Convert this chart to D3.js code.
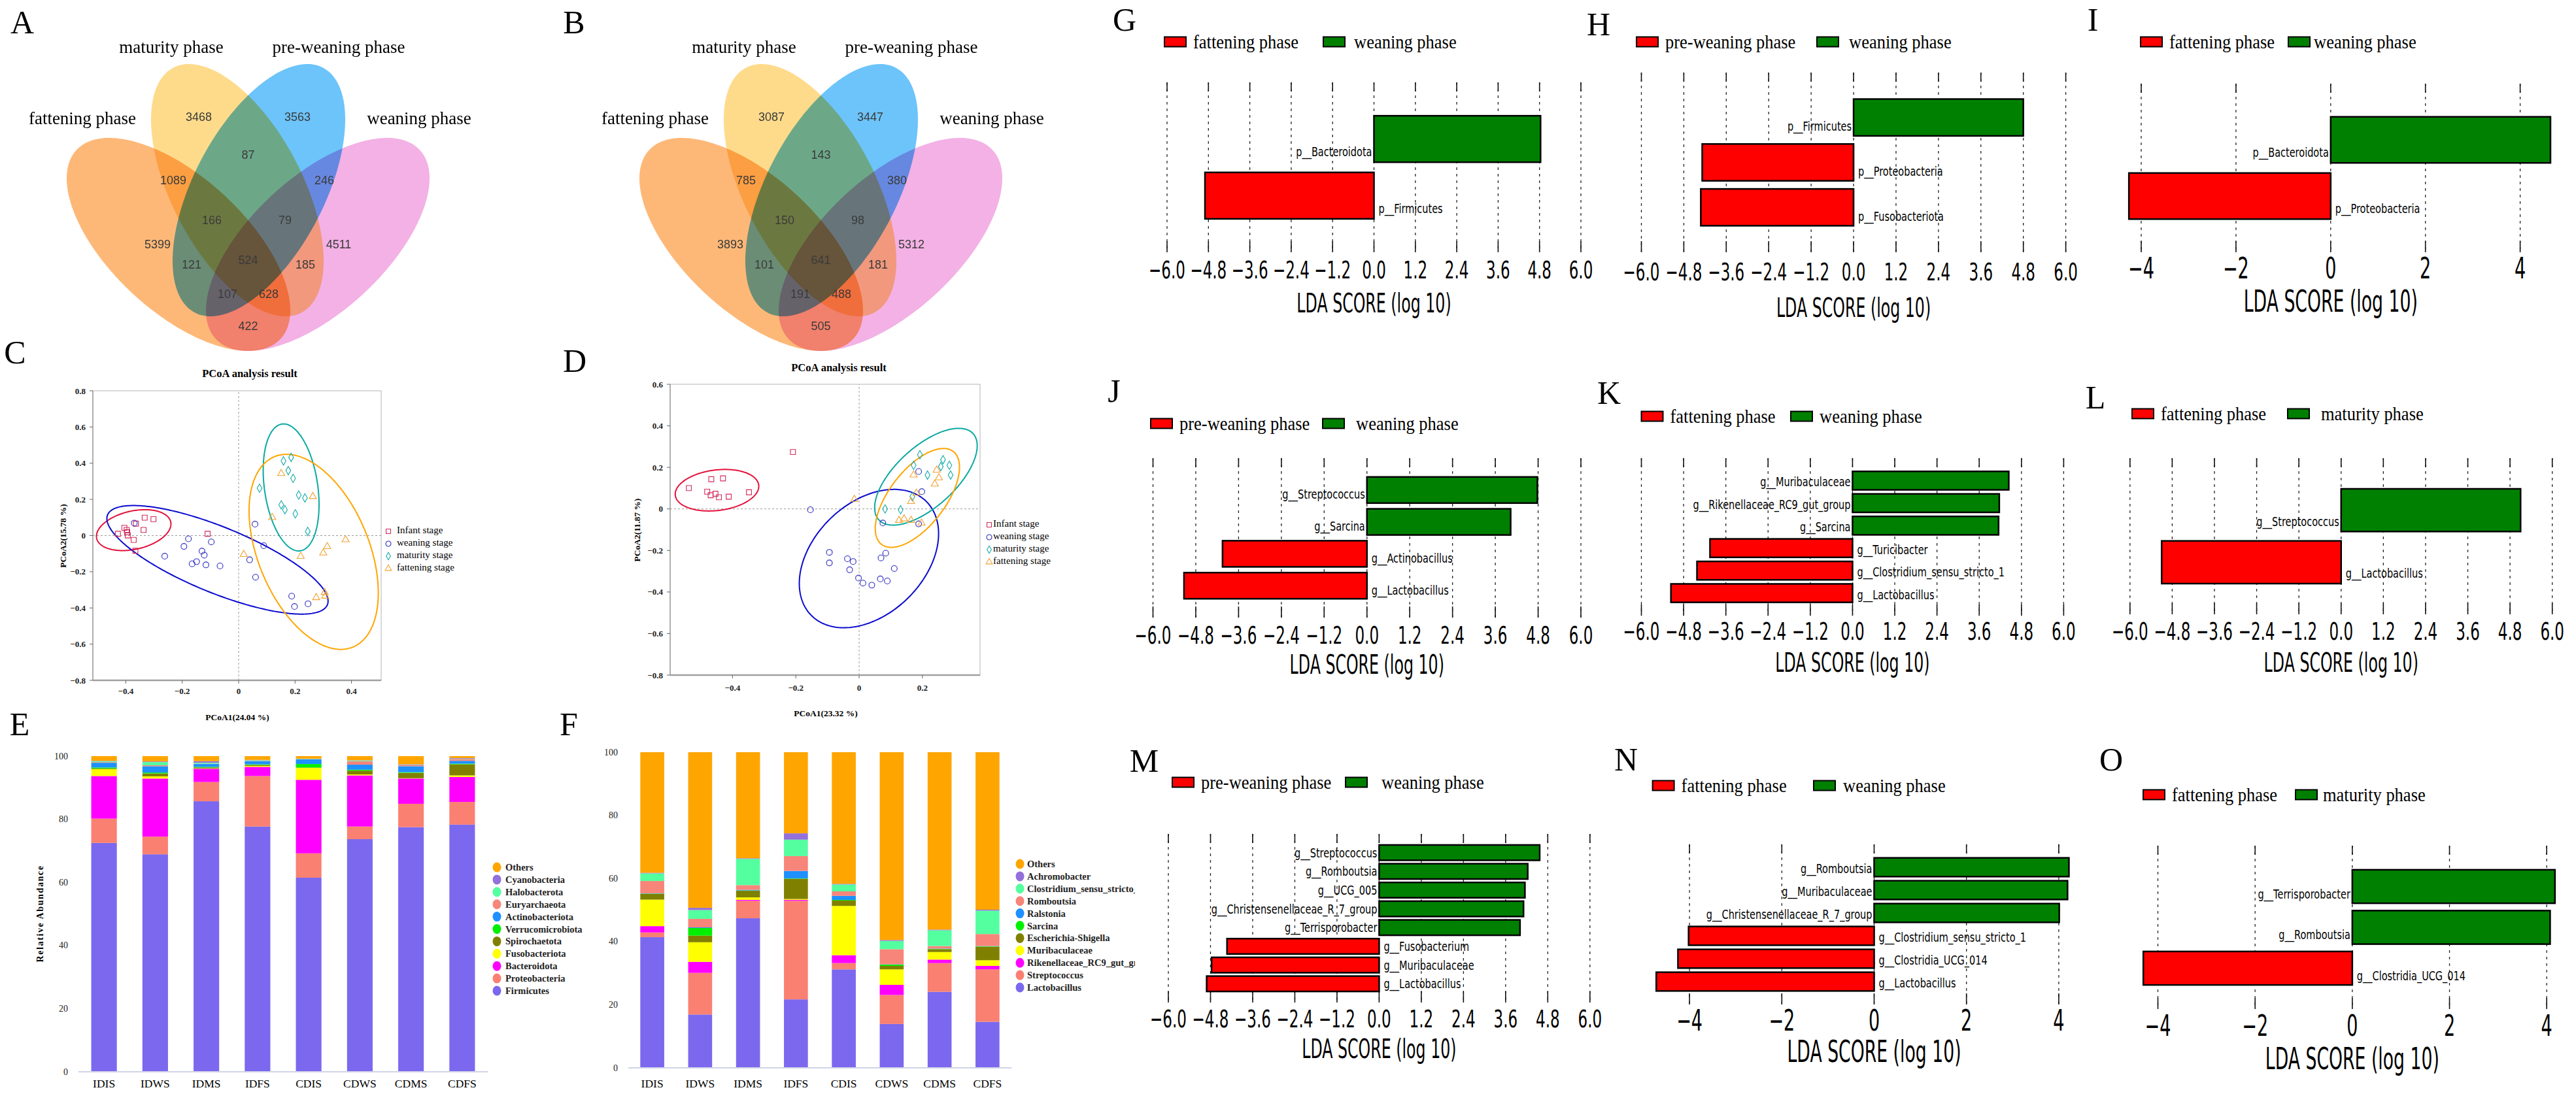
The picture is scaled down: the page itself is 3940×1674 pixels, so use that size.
<!DOCTYPE html>
<html>
<head>
<meta charset="utf-8">
<title>Gut microbiota across growth phases</title>
<script src="https://cdn.jsdelivr.net/npm/d3@7"></script>
<style>
  body { margin: 0; background: #fff; }
</style>
</head>
<body>
<div id="figure"></div>
<script>
// ---------------- data ----------------
const vennSets = ['fattening phase', 'maturity phase', 'pre-weaning phase', 'weaning phase'];
// region order: M, P, M&P, F&M, P&W, F&M&P, M&P&W, F, W, F&M&W, all, F&P&W, ..., F&W
const vennCountsA = [3468, 3563, 87, 1089, 246, 166, 79, 5399, 4511, 121, 524, 185, 107, 628, 422];
const vennCountsB = [3087, 3447, 143, 785, 380, 150, 98, 3893, 5312, 101, 641, 181, 191, 488, 505];

const stageNames = ['Infant stage', 'weaning stage', 'maturity stage', 'fattening stage'];

const cInfant = [[-0.428, 0.010], [-0.405, 0.043], [-0.397, 0.031], [-0.395, 0.018], [-0.393, 0.001], [-0.372, -0.024],
  [-0.364, 0.066], [-0.337, 0.031], [-0.333, 0.099], [-0.302, 0.091], [-0.366, -0.084], [-0.110, 0.010]];
const cWeaning = [[-0.370, 0.069], [-0.262, -0.114], [-0.194, -0.060], [-0.178, -0.018], [-0.097, -0.035], [-0.130, -0.086],
  [-0.122, -0.108], [-0.149, -0.144], [-0.165, -0.156], [-0.116, -0.162], [-0.066, -0.168], [0.039, -0.134],
  [0.060, -0.230], [0.058, 0.063], [0.089, -0.056], [0.188, -0.335], [0.246, -0.377], [0.198, -0.392]];
const cMaturity = [[0.159, 0.413], [0.186, 0.432], [0.176, 0.359], [0.193, 0.316], [0.074, 0.262], [0.235, 0.208],
  [0.213, 0.224], [0.151, 0.170], [0.164, 0.143], [0.201, 0.120], [0.245, 0.023]];
const cFattening = [[0.151, 0.343], [0.263, 0.216], [0.119, 0.100], [0.018, -0.104], [0.220, -0.115], [0.300, -0.096],
  [0.314, -0.061], [0.379, -0.023], [0.275, -0.343], [0.307, -0.335], [0.305, -0.315]];
// confidence ellipses: centre x, centre y, half width, half height, correlation
const cEllipses = [[-0.372, 0.030, 0.132, 0.113, 0.30], [-0.075, -0.134, 0.392, 0.300, -0.76],
  [0.186, 0.266, 0.099, 0.351, -0.27], [0.266, -0.090, 0.229, 0.539, -0.42]];

const dInfant = [[-0.538, 0.100], [-0.467, 0.143], [-0.430, 0.147], [-0.480, 0.083], [-0.469, 0.066], [-0.454, 0.073],
  [-0.443, 0.056], [-0.412, 0.059], [-0.348, 0.080], [-0.209, 0.274]];
const dWeaning = [[-0.154, -0.004], [-0.094, -0.209], [-0.094, -0.260], [-0.037, -0.240], [-0.019, -0.253], [-0.030, -0.293],
  [-0.002, -0.333], [0.012, -0.357], [0.040, -0.367], [0.069, -0.236], [0.084, -0.213], [0.067, -0.337],
  [0.089, -0.347], [0.111, -0.287], [0.075, -0.068], [0.188, -0.072], [0.188, 0.180], [0.198, 0.083]];
const dMaturity = [[0.192, 0.261], [0.172, 0.210], [0.258, 0.204], [0.265, 0.237], [0.285, 0.210], [0.289, 0.163],
  [0.216, 0.163], [0.082, 0.000], [0.131, -0.004], [0.168, 0.059]];
const dFattening = [[-0.015, 0.046], [0.172, 0.163], [0.181, 0.076], [0.245, 0.187], [0.252, 0.150], [0.239, 0.120],
  [0.164, 0.036], [0.142, -0.048], [0.164, -0.055], [0.126, -0.055], [0.197, -0.068]];
const dEllipses = [[-0.449, 0.090, 0.132, 0.100, 0.19], [0.031, -0.239, 0.220, 0.333, 0.36],
  [0.211, 0.155, 0.162, 0.233, 0.64], [0.184, 0.053, 0.133, 0.238, 0.62]];

const cXTicks = [-0.4, -0.2, 0, 0.2, 0.4];
const cYTicks = [-0.8, -0.6, -0.4, -0.2, 0, 0.2, 0.4, 0.6, 0.8];
const dXTicks = [-0.4, -0.2, 0, 0.2];
const dYTicks = [-0.8, -0.6, -0.4, -0.2, 0, 0.2, 0.4, 0.6];

const samples = ['IDIS', 'IDWS', 'IDMS', 'IDFS', 'CDIS', 'CDWS', 'CDMS', 'CDFS'];
const abundTicks = [0, 20, 40, 60, 80, 100];

// phylum level (%), stacked bottom to top
const firmicutes        = [72.5, 68.9, 85.7, 77.7, 61.5, 73.7, 77.5, 78.3];
const proteobacteria    = [7.7, 5.6, 6.1, 16.0, 7.7, 4.0, 7.4, 7.2];
const bacteroidota      = [13.5, 18.4, 4.2, 2.9, 23.3, 16.2, 8.0, 7.9];
const fusobacteriota    = [2.2, 0.7, 0.1, 0.3, 3.8, 0.3, 0.1, 0.5];
const spirochaetota     = [0.2, 0.9, 0.3, 0.3, 0.1, 1.2, 1.7, 3.5];
const verrucomicrobiota = [0.3, 0.3, 0.2, 0.2, 1.1, 0.3, 0.2, 0.2];
const actinobacteriota  = [1.5, 2.0, 0.9, 1.0, 1.5, 1.6, 1.9, 0.9];
const euryarchaeota     = [0.2, 0.3, 0.1, 0.1, 0.1, 1.1, 0.3, 0.6];
const halobacterota     = [0.3, 1.0, 0.3, 0.2, 0.1, 0.2, 0.1, 0.1];
const cyanobacteria     = [0.1, 0.2, 0.5, 0.1, 0.0, 0.1, 0.2, 0.2];
const phylumOthers      = [1.5, 1.7, 1.6, 1.2, 0.8, 1.3, 2.6, 0.6];
const phylumNames = ['Firmicutes', 'Proteobacteria', 'Bacteroidota', 'Fusobacteriota', 'Spirochaetota',
  'Verrucomicrobiota', 'Actinobacteriota', 'Euryarchaeota', 'Halobacterota', 'Cyanobacteria', 'Others'];

// genus level (%), stacked bottom to top
const lactobacillus   = [41.4, 16.9, 47.4, 21.7, 31.2, 13.9, 24.1, 14.6];
const streptococcus   = [1.5, 13.2, 5.5, 31.2, 2.0, 9.2, 9.1, 16.6];
const rikenellaceae   = [2.0, 3.5, 0.3, 0.3, 2.5, 3.2, 1.1, 1.1];
const muribaculaceae  = [8.4, 6.2, 0.8, 0.3, 15.6, 4.9, 2.4, 1.8];
const escherichia     = [1.8, 2.1, 2.1, 6.4, 1.7, 1.1, 0.9, 4.3];
const sarcina         = [0.1, 2.4, 0.1, 0.1, 0.2, 0.4, 0.1, 0.1];
const ralstonia       = [0.1, 0.2, 0.2, 2.4, 1.3, 0.1, 0.1, 0.1];
const romboutsia      = [3.9, 2.7, 1.5, 4.7, 1.4, 4.8, 0.8, 3.8];
const clostridium     = [2.4, 2.8, 8.3, 5.2, 2.2, 2.6, 5.0, 7.4];
const achromobacter   = [0.2, 0.7, 0.2, 2.0, 0.2, 0.3, 0.2, 0.3];
const genusOthers     = [38.2, 49.3, 33.6, 25.7, 41.7, 59.5, 56.2, 49.9];
const genusNames = ['Lactobacillus', 'Streptococcus', 'Rikenellaceae_RC9_gut_group', 'Muribaculaceae',
  'Escherichia-Shigella', 'Sarcina', 'Ralstonia', 'Romboutsia', 'Clostridium_sensu_stricto_1', 'Achromobacter', 'Others'];

// LEfSe LDA scores, top to bottom
const gNames = ['p__Bacteroidota', 'p__Firmicutes'];
const gScores = [4.83, -4.90];
const gGroups = ['fattening phase', 'weaning phase'];
const hNames = ['p__Firmicutes', 'p__Proteobacteria', 'p__Fusobacteriota'];
const hScores = [4.80, -4.28, -4.32];
const hGroups = ['pre-weaning phase', 'weaning phase'];
const iNames = ['p__Bacteroidota', 'p__Proteobacteria'];
const iScores = [4.64, -4.26];
const iGroups = ['fattening phase', 'weaning phase'];
const jNames = ['g__Streptococcus', 'g__Sarcina', 'g__Actinobacillus', 'g__Lactobacillus'];
const jScores = [4.78, 4.03, -4.05, -5.13];
const jGroups = ['pre-weaning phase', 'weaning phase'];
const kNames = ['g__Muribaculaceae', 'g__Rikenellaceae_RC9_gut_group', 'g__Sarcina', 'g__Turicibacter',
  'g__Clostridium_sensu_stricto_1', 'g__Lactobacillus'];
const kScores = [4.44, 4.17, 4.15, -4.05, -4.42, -5.16];
const kGroups = ['fattening phase', 'weaning phase'];
const lNames = ['g__Streptococcus', 'g__Lactobacillus'];
const lScores = [5.10, -5.10];
const lGroups = ['fattening phase', 'maturity phase'];
const mNames = ['g__Streptococcus', 'g__Romboutsia', 'g__UCG_005', 'g__Christensenellaceae_R_7_group',
  'g__Terrisporobacter', 'g__Fusobacterium', 'g__Muribaculaceae', 'g__Lactobacillus'];
const mScores = [4.57, 4.23, 4.15, 4.11, 4.01, -4.33, -4.77, -4.91];
const mGroups = ['pre-weaning phase', 'weaning phase'];
const nNames = ['g__Romboutsia', 'g__Muribaculaceae', 'g__Christensenellaceae_R_7_group',
  'g__Clostridium_sensu_stricto_1', 'g__Clostridia_UCG_014', 'g__Lactobacillus'];
const nScores = [4.22, 4.19, 4.01, -4.02, -4.25, -4.72];
const nGroups = ['fattening phase', 'weaning phase'];
const oNames = ['g__Terrisporobacter', 'g__Romboutsia', 'g__Clostridia_UCG_014'];
const oScores = [4.17, 4.07, -4.30];
const oGroups = ['fattening phase', 'maturity phase'];

const ldaTicksWide = [-6, -4.8, -3.6, -2.4, -1.2, 0, 1.2, 2.4, 3.6, 4.8, 6];
const ldaTicksNarrow = [-4, -2, 0, 2, 4];

// ---------------- setup ----------------
const serif = '"Liberation Serif", "Times New Roman", Times, serif';
const sans = '"DejaVu Sans", Verdana, sans-serif';
const arial = '"Liberation Sans", Arial, sans-serif';

const svg = d3.select('#figure').append('svg')
  .attr('width', 3940).attr('height', 1674)
  .style('display', 'block');
svg.append('rect').attr('width', 3940).attr('height', 1674).attr('fill', '#fff');

function txt(parent, x, y, str, o) {
  return parent.append('text')
    .attr('transform', `translate(${x},${y}) scale(1,${o.sy || 1})` + (o.rot ? ` rotate(${o.rot})` : ''))
    .attr('text-anchor', o.anchor || 'middle')
    .attr('dominant-baseline', 'central')
    .style('font-family', o.font || serif)
    .style('font-size', o.size + 'px')
    .style('font-weight', o.weight || 'normal')
    .style('letter-spacing', o.ls || 'normal')
    .style('fill', o.fill || '#000')
    .text(str);
}

function ellipsePath(e, xs, ys) {
  const [cx, cy, ex, ey, r] = e;
  const k = Math.sqrt(1 - r * r);
  const pts = d3.range(0, 2 * Math.PI, Math.PI / 120)
    .map(t => [xs(cx + ex * Math.cos(t)), ys(cy + ey * (r * Math.cos(t) + k * Math.sin(t)))]);
  return d3.line().curve(d3.curveLinearClosed)(pts);
}

// panel letters
const letters = [['A', 34, 34], ['B', 878, 34], ['C', 23, 539], ['D', 879, 552], ['E', 30, 1108], ['F', 870, 1108],
  ['G', 1720, 30], ['H', 2445, 37], ['I', 3201, 30], ['J', 1704, 598], ['K', 2461, 601], ['L', 3205, 608],
  ['M', 1750, 1164], ['N', 2487, 1162], ['O', 3229, 1162]];
letters.forEach(([t, x, y]) => txt(svg, x, y, t, {size: 50}));

// ---------------- Venn diagrams ----------------
const vennColors = ['#FDB878', '#FEDB8B', '#6CC4FA', '#F3B1E5'];
const vennShapes = [[-106.5, 374, 171, 163, 0.62], [-16.5, 291, 132, 193, 0.56],
  [16.5, 291, 132, 193, -0.56], [106.5, 374, 171, 163, -0.62]];
const vennRegionPos = [[-75.5, 179], [75.5, 179], [0, 237], [-114.5, 276], [116.5, 276], [-55.5, 337], [56.5, 337],
  [-138.5, 374], [138.5, 374], [-86.5, 405], [0, 398], [87.5, 405], [-31.5, 450], [31.5, 450], [0, 499]];
const vennLabelPos = [[-253.5, 181], [-117.5, 72], [138.5, 72], [261.5, 181]];

function drawVenn(cx, counts) {
  const g = svg.append('g').attr('transform', `translate(${cx},0)`).style('isolation', 'isolate');
  const id = d3.scaleIdentity();
  vennShapes.forEach((s, i) => {
    g.append('path').attr('d', ellipsePath(s, id, id))
      .attr('fill', vennColors[i]).style('mix-blend-mode', 'multiply');
  });
  counts.forEach((c, i) => txt(g, vennRegionPos[i][0], vennRegionPos[i][1], c,
    {size: 18, font: arial, fill: '#3a3a3a'}));
  vennSets.forEach((s, i) => txt(g, vennLabelPos[i][0], vennLabelPos[i][1], s, {size: 27}));
}
drawVenn(379.5, vennCountsA);
drawVenn(1255.5, vennCountsB);

// ---------------- PCoA ----------------
const stageSymbols = [d3.symbolSquare, d3.symbolCircle, d3.symbolDiamond, d3.symbolTriangle];
const stageSizes = [60, 62, 48, 52];
const stagePoint = ['#D2295A', '#2E2EC2', '#15A9A9', '#F2A230'];
const stageRing = ['#E3123C', '#0A0ACF', '#0BA9A3', '#FFA500'];

function drawPCoA(o) {
  const x = d3.scaleLinear().domain(o.xd).range(o.xr);
  const y = d3.scaleLinear().domain(o.yd).range(o.yr);
  const g = svg.append('g');
  g.append('rect').attr('x', o.xr[0]).attr('y', o.yr[1])
    .attr('width', o.xr[1] - o.xr[0]).attr('height', o.yr[0] - o.yr[1])
    .attr('fill', 'none').attr('stroke', '#b4b4b4').attr('stroke-width', 1);
  g.append('line').attr('x1', x(0)).attr('x2', x(0)).attr('y1', o.yr[0]).attr('y2', o.yr[1])
    .attr('stroke', '#9a9a9a').attr('stroke-dasharray', '3,3');
  g.append('line').attr('x1', o.xr[0]).attr('x2', o.xr[1]).attr('y1', y(0)).attr('y2', y(0))
    .attr('stroke', '#9a9a9a').attr('stroke-dasharray', '3,3');
  g.append('line').attr('x1', o.xr[0]).attr('x2', o.xr[1]).attr('y1', o.yr[0]).attr('y2', o.yr[0])
    .attr('stroke', '#a0a0a0').attr('stroke-width', 2.5);
  g.append('line').attr('x1', o.xr[0]).attr('x2', o.xr[0]).attr('y1', o.yr[0]).attr('y2', o.yr[1])
    .attr('stroke', '#a0a0a0').attr('stroke-width', 1.5);
  const fmt = d => d === 0 ? '0' : d3.format('.1f')(d);
  o.xTicks.forEach(t => {
    g.append('line').attr('x1', x(t)).attr('x2', x(t)).attr('y1', o.yr[0]).attr('y2', o.yr[0] + 5).attr('stroke', '#666');
    txt(g, x(t), o.xLabY, fmt(t), {size: 13, weight: 'bold', fill: '#222'});
  });
  o.yTicks.forEach(t => {
    g.append('line').attr('x1', o.xr[0] - 5).attr('x2', o.xr[0]).attr('y1', y(t)).attr('y2', y(t)).attr('stroke', '#666');
    txt(g, o.yLabX, y(t), fmt(t), {size: 13, weight: 'bold', anchor: 'end', fill: '#222'});
  });
  o.ellipses.forEach((e, i) => {
    g.append('path').attr('d', ellipsePath(e, x, y)).attr('fill', 'none')
      .attr('stroke', stageRing[i]).attr('stroke-width', 2);
  });
  o.groups.forEach((pts, i) => {
    g.selectAll(null).data(pts).enter().append('path')
      .attr('transform', d => `translate(${x(d[0])},${y(d[1])})`)
      .attr('d', d3.symbol(stageSymbols[i], stageSizes[i]))
      .attr('fill', 'none').attr('stroke', stagePoint[i]).attr('stroke-width', 1.1);
  });
  stageNames.forEach((s, i) => {
    const ly = o.legend[1] + i * 19;
    g.append('path').attr('transform', `translate(${o.legend[0]},${ly + 2})`)
      .attr('d', d3.symbol(stageSymbols[i], stageSizes[i] * 0.8))
      .attr('fill', 'none').attr('stroke', stagePoint[i]).attr('stroke-width', 1.1);
    txt(g, o.legend[2], ly, s, {size: 15, anchor: 'start'});
  });
  txt(g, o.title[0], o.title[1], 'PCoA analysis result', {size: 16.5, weight: 'bold'});
  txt(g, o.xTitle[0], o.xTitle[1], o.xLabel, {size: 13.5, weight: 'bold'});
  txt(g, o.yTitle[0], o.yTitle[1], o.yLabel, {size: 13.5, weight: 'bold', rot: -90});
}

drawPCoA({xr: [142, 583], xd: [-0.5168, 0.5052], yr: [1041, 598], yd: [-0.8, 0.8],
  xTicks: cXTicks, yTicks: cYTicks, yLabX: 131, xLabY: 1057,
  ellipses: cEllipses, groups: [cInfant, cWeaning, cMaturity, cFattening],
  legend: [594, 811, 607], title: [382, 571], xTitle: [363, 1097], yTitle: [96, 820],
  xLabel: 'PCoA1(24.04 %)', yLabel: 'PCoA2(15.78 %)'});
drawPCoA({xr: [1025, 1499], xd: [-0.597, 0.382], yr: [1033, 588], yd: [-0.8, 0.6],
  xTicks: dXTicks, yTicks: dYTicks, yLabX: 1014, xLabY: 1052,
  ellipses: dEllipses, groups: [dInfant, dWeaning, dMaturity, dFattening],
  legend: [1513, 801, 1519], title: [1283, 562], xTitle: [1263, 1091], yTitle: [974, 811],
  xLabel: 'PCoA1(23.32 %)', yLabel: 'PCoA2(11.87 %)'});

// ---------------- stacked bars ----------------
const taxonColors = ['#7B68EE', '#FA8072', '#FF00FF', '#FFFF00', '#808000', '#00F000',
  '#1E90FF', '#F7857A', '#54FF9F', '#9370DB', '#FFA500'];

function drawStack(o) {
  const x = d3.scaleBand().domain(samples).range(o.xr).paddingInner(0.5).paddingOuter(0.25);
  const y = d3.scaleLinear().domain([0, 100]).range(o.yr);
  const rows = samples.map((s, i) => {
    const r = {sample: s};
    o.names.forEach((n, j) => { r[n] = o.values[j][i]; });
    return r;
  });
  const series = d3.stack().keys(o.names)(rows);
  const g = svg.append('g');
  g.selectAll('g.layer').data(series).enter().append('g')
    .attr('fill', (d, i) => taxonColors[i])
    .selectAll('rect').data(d => d).enter().append('rect')
    .attr('x', d => x(d.data.sample)).attr('width', x.bandwidth())
    .attr('y', d => y(d[1])).attr('height', d => Math.max(0, y(d[0]) - y(d[1])));
  g.append('line').attr('x1', o.xr[0]).attr('x2', o.xr[1]).attr('y1', y(0)).attr('y2', y(0))
    .attr('stroke', '#d0d4e6').attr('stroke-width', 2);
  samples.forEach(s => txt(g, x(s) + x.bandwidth() / 2, o.xLabY, s, {size: 17.5}));
  abundTicks.forEach(t => txt(g, o.yLabX, y(t), t, {size: 14, anchor: 'end', fill: '#222'}));
  if (o.yTitle) txt(g, o.yTitle[0], o.yTitle[1], 'Relative Abundance',
    {size: 14, weight: 'bold', rot: -90, ls: '1.6px'});
  const lg = g.append('g');
  if (o.clip) {
    svg.append('clipPath').attr('id', o.clipId).append('rect')
      .attr('x', o.legend[0] - 20).attr('y', o.legend[1] - 20).attr('width', o.clip - o.legend[0] + 20).attr('height', 260);
    lg.attr('clip-path', `url(#${o.clipId})`);
  }
  const legendOrder = o.names.slice().reverse();
  legendOrder.forEach((n, i) => {
    const ly = o.legend[1] + i * 18.9;
    lg.append('ellipse').attr('cx', o.legend[0]).attr('cy', ly).attr('rx', 6.5).attr('ry', 7.5)
      .attr('fill', taxonColors[o.names.indexOf(n)]);
    txt(lg, o.legend[2], ly, n, {size: 14.5, weight: 'bold', anchor: 'start', fill: '#222'});
  });
}

drawStack({xr: [120, 746], yr: [1640, 1157], yLabX: 104, xLabY: 1658, yTitle: [61, 1398],
  names: phylumNames,
  values: [firmicutes, proteobacteria, bacteroidota, fusobacteriota, spirochaetota, verrucomicrobiota,
    actinobacteriota, euryarchaeota, halobacterota, cyanobacteria, phylumOthers],
  legend: [760, 1327, 773]});
drawStack({xr: [961, 1547], yr: [1634, 1151], yLabX: 945, xLabY: 1658,
  names: genusNames,
  values: [lactobacillus, streptococcus, rikenellaceae, muribaculaceae, escherichia, sarcina,
    ralstonia, romboutsia, clostridium, achromobacter, genusOthers],
  legend: [1560, 1322, 1571], clip: 1736, clipId: 'fclip'});

// ---------------- LEfSe LDA panels ----------------
const ldaPanels = [
  {names: gNames, scores: gScores, groups: gGroups, ticks: ldaTicksWide, xr: [1785, 2418], yr: [126, 386], tickY: 413, titleY: 464, leg: [1781, 2024, 64, 47]},
  {names: hNames, scores: hScores, groups: hGroups, ticks: ldaTicksWide, xr: [2510.5, 3159.6], yr: [111, 386], tickY: 416, titleY: 471, leg: [2503, 2779, 64, 49]},
  {names: iNames, scores: iScores, groups: iGroups, ticks: ldaTicksNarrow, xr: [3275, 3854.6], yr: [128, 386], tickY: 411, titleY: 461, leg: [3274, 3500, 64, 39]},
  {names: jNames, scores: jScores, groups: jGroups, ticks: ldaTicksWide, xr: [1763.5, 2418], yr: [701, 945], tickY: 971.5, titleY: 1017, leg: [1760, 2023, 648, 51]},
  {names: kNames, scores: kScores, groups: kGroups, ticks: ldaTicksWide, xr: [2510.5, 3156.4], yr: [701, 942], tickY: 966, titleY: 1014, leg: [2510.5, 2739, 637, 44]},
  {names: lNames, scores: lScores, groups: lGroups, ticks: ldaTicksWide, xr: [3257.8, 3903.7], yr: [701, 940], tickY: 966, titleY: 1014, leg: [3261, 3499, 633, 51]},
  {names: mNames, scores: mScores, groups: mGroups, ticks: ldaTicksWide, xr: [1787, 2431.8], yr: [1276, 1534], tickY: 1559, titleY: 1605, leg: [1793, 2058, 1197, 55]},
  {names: nNames, scores: nScores, groups: nGroups, ticks: ldaTicksNarrow, xr: [2584.1, 3148.9], yr: [1292, 1537], tickY: 1562, titleY: 1609, leg: [2527.6, 2774, 1202, 45]},
  {names: oNames, scores: oScores, groups: oGroups, ticks: ldaTicksNarrow, xr: [3300.5, 3895.2], yr: [1294, 1544], tickY: 1570, titleY: 1620, leg: [3278, 3511, 1216, 42]}
];

function drawLDA(p) {
  const wide = p.ticks.length > 5;
  const x = d3.scaleLinear().domain(d3.extent(p.ticks)).range(p.xr);
  const y = d3.scaleBand().domain(p.names).range(p.yr).paddingInner(0.18).paddingOuter(0.59);
  const g = svg.append('g');
  const fmt = wide ? d3.format('.1f') : d3.format('d');
  p.ticks.forEach(t => {
    g.append('line').attr('x1', x(t)).attr('x2', x(t)).attr('y1', p.yr[0]).attr('y2', p.yr[1])
      .attr('stroke', '#222').attr('stroke-width', 1.3).attr('stroke-dasharray', '4,6');
    g.append('line').attr('x1', x(t)).attr('x2', x(t)).attr('y1', p.yr[0]).attr('y2', p.yr[0] + 14)
      .attr('stroke', '#111').attr('stroke-width', 1.6);
    g.append('line').attr('x1', x(t)).attr('x2', x(t)).attr('y1', p.yr[1] - 17).attr('y2', p.yr[1])
      .attr('stroke', '#111').attr('stroke-width', 1.6);
    txt(g, x(t), p.tickY, fmt(t), {font: sans, size: wide ? 23 : 27, sy: 1.65});
  });
  const off = Math.max(0, (y.step() - 28) * 0.33);
  p.names.forEach((n, i) => {
    const v = p.scores[i];
    g.append('rect')
      .attr('x', x(Math.min(0, v))).attr('width', Math.abs(x(v) - x(0)))
      .attr('y', y(n)).attr('height', y.bandwidth())
      .attr('fill', v > 0 ? '#008000' : '#FF0000')
      .attr('stroke', '#000').attr('stroke-width', 2.5);
    txt(g, v > 0 ? x(0) - 3 : x(0) + 7, y(n) + y.bandwidth() / 2 + off, n,
      {font: sans, size: 14.5, sy: 1.35, anchor: v > 0 ? 'end' : 'start'});
  });
  txt(g, x(0), p.titleY, 'LDA SCORE (log 10)', {font: sans, size: wide ? 23.7 : 26.7, sy: 1.7});
  const [xrRect, xgRect, ly, gOff] = p.leg;
  [[xrRect, '#FF0000', p.groups[0], 44], [xgRect, '#008000', p.groups[1], gOff]].forEach(([lx, col, label, to]) => {
    g.append('rect').attr('x', lx).attr('y', ly - 7.5).attr('width', 33).attr('height', 15)
      .attr('fill', col).attr('stroke', '#000').attr('stroke-width', 2);
    txt(g, lx + to, ly, label, {size: 26.5, sy: 1.12, anchor: 'start'});
  });
}
ldaPanels.forEach(drawLDA);
</script>
</body>
</html>
